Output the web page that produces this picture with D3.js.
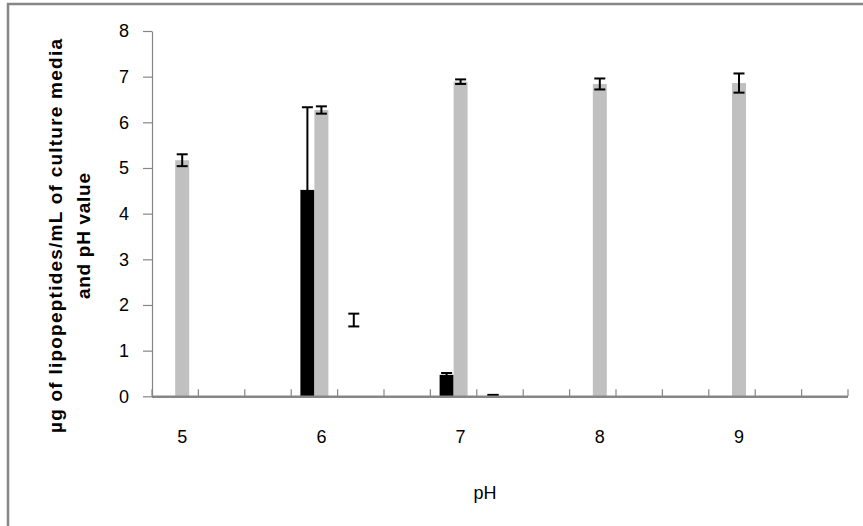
<!DOCTYPE html>
<html>
<head>
<meta charset="utf-8">
<script src="https://cdn.jsdelivr.net/npm/d3@7"></script>
<style>
  body { margin: 0; background: #fff; }
  svg { display: block; }
</style>
</head>
<body>
<div id="chart"></div>
<script>
// chart values, 15 category slots, a pH label on every third one
var catLabels = ["5", "", "", "6", "", "", "7", "", "", "8", "", "", "9", "", ""];
var blackVals = [null, null, null, 4.52, null, null, 0.47, null, null, null, null, null, null, null, null];
var blackErr  = [null, null, null, 1.81, null, null, 0.04, null, null, null, null, null, null, null, null];
var grayVals  = [5.17, null, null, 6.27, null, null, 6.89, null, null, 6.84, null, null, 6.86, null, null];
var grayErr   = [0.13, null, null, 0.08, null, null, 0.05, null, null, 0.12, null, null, 0.21, null, null];
var openVals  = [null, null, null, null, 1.67, null, null, 0.03, null, null, null, null, null, null, null];
var openErr   = [null, null, null, null, 0.14, null, null, 0, null, null, null, null, null, null, null];
var yTicks = [0, 1, 2, 3, 4, 5, 6, 7, 8];

var svgWidth = 863;
var svgHeight = 526;
var axisGray = "#868686";
var font = "'Liberation Sans', Arial, sans-serif";

var svg = d3.select("#chart")
    .append("svg")
    .attr("width", svgWidth)
    .attr("height", svgHeight);

// outer frame (only top and left edges fall inside the picture)
svg.append("path")
    .attr("d", "M8,526 V4 H863")
    .attr("fill", "none")
    .attr("stroke", axisGray)
    .attr("stroke-width", 2.5);

// scales
var x = d3.scaleBand()
    .domain(d3.range(catLabels.length))
    .range([152, 848])
    .paddingInner(0)
    .paddingOuter(0);

var barW = 14;
var slot = d3.scaleBand()
    .domain(["left", "right"])
    .range([0, x.bandwidth()])
    .paddingInner(0)
    .paddingOuter((x.bandwidth() / barW - 2) / 2);

var y = d3.scaleLinear()
    .domain([0, 8])
    .range([396.3, 31]);

var series = [
    { vals: blackVals, err: blackErr, pos: "left", fill: "#000000" },
    { vals: grayVals, err: grayErr, pos: "right", fill: "#c0c0c0" },
    { vals: openVals, err: openErr, pos: "left", fill: "none" }
];

// bars
series.forEach(function (s) {
    var pts = s.vals.map(function (v, i) { return { i: i, v: v, e: s.err[i] }; })
        .filter(function (d) { return d.v !== null; });

    svg.append("g").selectAll("rect")
        .data(pts)
        .enter()
        .append("rect")
        .attr("x", d => x(d.i) + slot(s.pos))
        .attr("y", d => y(d.v))
        .attr("width", slot.bandwidth())
        .attr("height", d => y(0) - y(d.v))
        .attr("fill", s.fill);
    s.pts = pts;
});

// error bars
var capW = 11;
series.forEach(function (s) {
    var g = svg.append("g")
        .attr("stroke", "#000")
        .attr("stroke-width", 2);
    var eb = g.selectAll("g")
        .data(s.pts)
        .enter()
        .append("g")
        .attr("transform", d => `translate(${x(d.i) + slot(s.pos) + slot.bandwidth() / 2},0)`);
    eb.append("line")
        .attr("y1", d => y(d.v + d.e))
        .attr("y2", d => y(Math.max(0, d.v - d.e)));
    eb.append("line")
        .attr("x1", -capW / 2).attr("x2", capW / 2)
        .attr("y1", d => y(d.v + d.e)).attr("y2", d => y(d.v + d.e));
    eb.append("line")
        .attr("x1", -capW / 2).attr("x2", capW / 2)
        .attr("y1", d => y(Math.max(0, d.v - d.e))).attr("y2", d => y(Math.max(0, d.v - d.e)));
});

// y axis
var leftAxis = d3.axisLeft(y)
    .tickValues(yTicks)
    .tickSize(9)
    .tickPadding(14)
    .tickSizeOuter(0);

var yg = svg.append("g")
    .attr("transform", "translate(152,0)")
    .call(leftAxis);
yg.select(".domain").attr("stroke", axisGray).attr("stroke-width", 1.2);
yg.selectAll(".tick line").attr("stroke", axisGray).attr("stroke-width", 1.2);
yg.selectAll(".tick text")
    .style("font-family", font)
    .style("font-size", "18px")
    .attr("fill", "#000");

// x axis: labels centred under the right slot
var bottomAxis = d3.axisBottom(x)
    .tickSize(0)
    .tickPadding(34)
    .tickFormat(i => catLabels[i]);

var xg = svg.append("g")
    .attr("transform", `translate(0, ${y(0)})`)
    .call(bottomAxis);
xg.select(".domain").remove();
xg.selectAll(".tick text")
    .attr("dx", slot.bandwidth() / 2)
    .style("font-family", font)
    .style("font-size", "18px")
    .attr("fill", "#000");

// category boundary tick marks pointing up, then the axis line
svg.append("g").selectAll("line")
    .data(d3.range(catLabels.length + 1))
    .enter()
    .append("line")
    .attr("x1", i => i < catLabels.length ? x(i) : x.range()[1])
    .attr("x2", i => i < catLabels.length ? x(i) : x.range()[1])
    .attr("y1", y(0))
    .attr("y2", y(0) - 7)
    .attr("stroke", axisGray)
    .attr("stroke-width", 1.2);

svg.append("line")
    .attr("x1", x.range()[0])
    .attr("x2", x.range()[1])
    .attr("y1", y(0) + 0.5)
    .attr("y2", y(0) + 0.5)
    .attr("stroke", axisGray)
    .attr("stroke-width", 2.5);

// axis titles
svg.append("text")
    .attr("x", 485)
    .attr("y", 499)
    .style("font-family", font)
    .style("font-size", "18px")
    .style("text-anchor", "middle")
    .text("pH");

var yTitle = svg.append("text")
    .attr("transform", "translate(0,236) rotate(-90)")
    .style("font-family", font)
    .style("font-size", "19px")
    .style("font-weight", "bold")
    .style("text-anchor", "middle");
yTitle.append("tspan")
    .attr("x", 0).attr("y", 62)
    .attr("textLength", 394)
    .attr("lengthAdjust", "spacing")
    .text("µg of lipopeptides/mL of culture media");
yTitle.append("tspan")
    .attr("x", 0).attr("y", 90)
    .attr("textLength", 126)
    .attr("lengthAdjust", "spacing")
    .text("and pH value");
</script>
</body>
</html>
